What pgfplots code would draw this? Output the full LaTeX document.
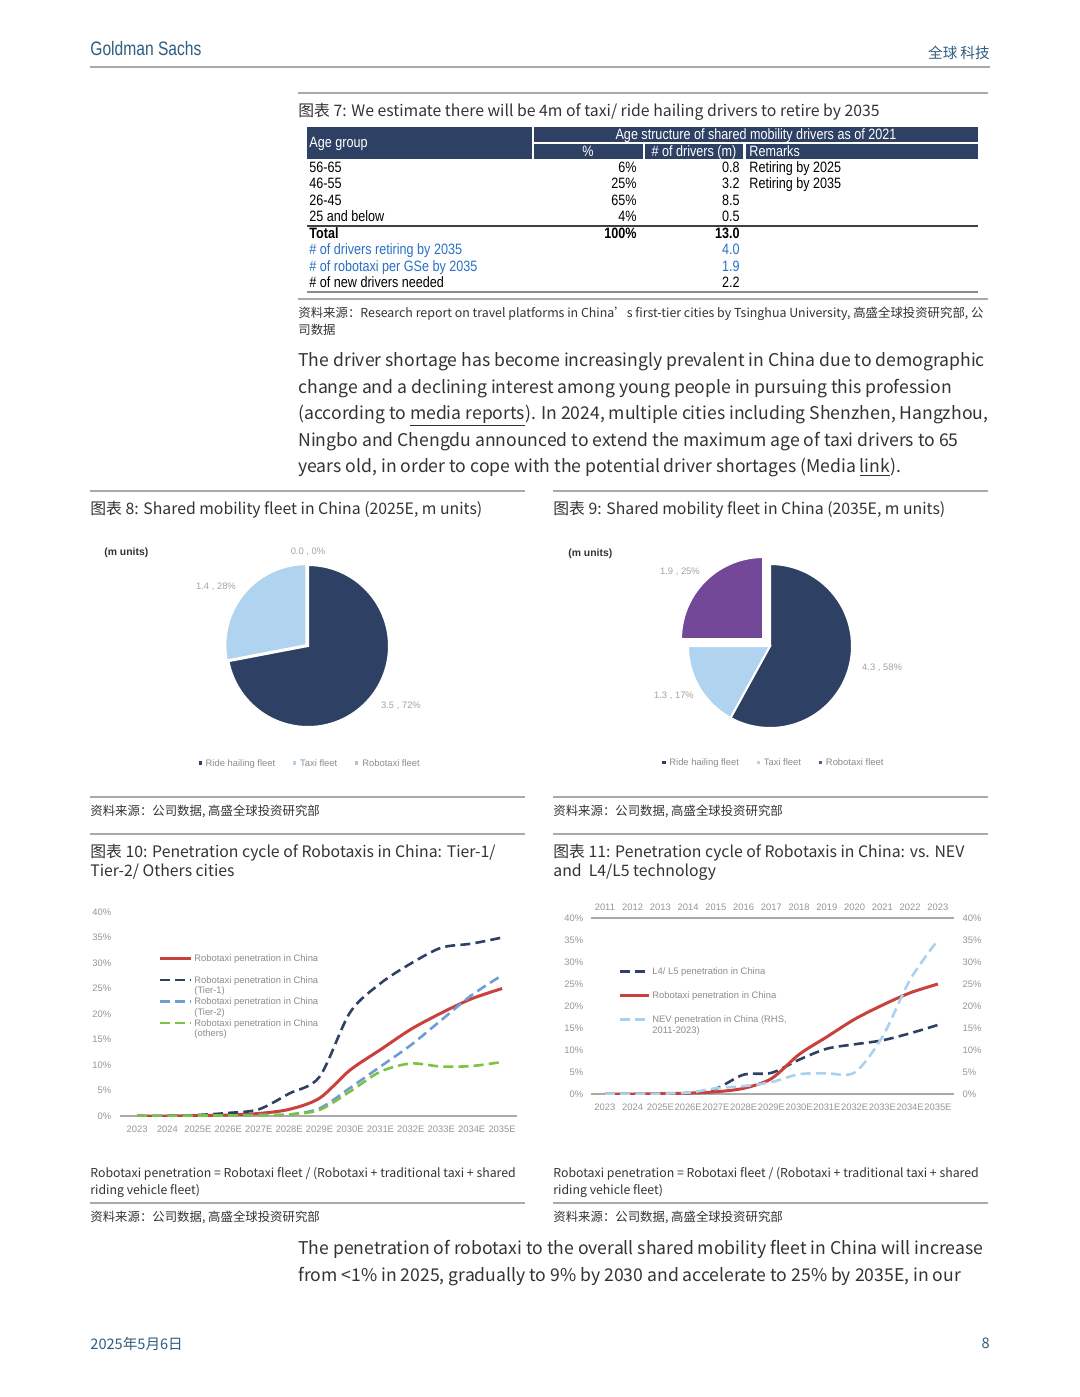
\documentclass[border=0pt]{standalone}
\usepackage{pgfplots}
\pgfplotsset{compat=1.18}
\usepackage{fontspec}
\setmainfont{Noto Sans CJK SC}
\newfontfamily\arial{Liberation Sans}
\newfontfamily\narrow[FakeStretch=0.84]{Liberation Sans}
\newfontfamily\gscond[FakeStretch=0.8]{Liberation Sans}

\definecolor{navy}{RGB}{46,65,100}
\definecolor{lblue}{RGB}{176,212,239}
\definecolor{purp}{RGB}{115,72,152}
\definecolor{gsblue}{RGB}{46,94,128}
\definecolor{rline}{RGB}{200,65,60}
\definecolor{t2blue}{RGB}{112,156,212}
\definecolor{grn}{RGB}{125,194,66}
\definecolor{nev}{RGB}{170,210,240}
\definecolor{tabblue}{RGB}{40,112,200}
\definecolor{txt}{RGB}{51,51,51}
\definecolor{tick}{RGB}{150,150,150}
\definecolor{leg}{RGB}{140,140,140}
\definecolor{rule}{RGB}{170,170,170}

\newcommand\bodyf{\fontsize{8.8pt}{10.5pt}\selectfont}
\newcommand\titf{\fontsize{7.9pt}{9pt}\selectfont}
\newcommand\srcf{\fontsize{6.2pt}{7pt}\selectfont}
\newcommand\notef{\fontsize{6.15pt}{7pt}\selectfont}
\newcommand\tabf{\narrow\fontsize{7.5pt}{8pt}\selectfont}
\newcommand\cf{\arial\fontsize{4.7pt}{5.25pt}\selectfont}
\newcommand\oneline[1]{\raisebox{0pt}[3.4pt][1.2pt]{#1}}
\newcommand\twoline[2]{\raisebox{0pt}[3.4pt][1.2pt]{\begin{tabular}[t]{@{}l@{}}#1\\#2\end{tabular}}}

\pgfplotsset{
  linechart/.style={scale only axis, ymin=0, ymax=40,
    major tick length=0pt, xtick={0,...,12}, ytick={0,5,...,40},
    yticklabel={\pgfmathprintnumber{\tick}\%},
    /pgf/number format/assume math mode=true,
    tick label style={font=\cf, text=tick},
    y axis line style={draw=none},
    x axis line style={draw=rule, line width=0.6pt},
    legend style={draw=none, fill=none, inner sep=0pt, font=\cf, text=leg,
      nodes={inner sep=0pt}, cells={anchor=base west}, /tikz/column sep=1pt}},
  pie/.style={hide axis, clip=false, xmin=-2, xmax=2, ymin=-2, ymax=2,
    legend columns=3,
    legend style={draw=none, fill=none, inner sep=0pt, anchor=center,
      font=\cf, text=leg, cells={anchor=base west},
      /tikz/every even column/.append style={column sep=7pt}}},
  dot/.style={legend image code/.code={\fill[#1] (0.6pt,1.1pt) rectangle (1.7pt,2.2pt);}}
}

\begin{document}
\begin{tikzpicture}
\path[use as bounding box, fill=white] (0pt,0pt) rectangle (540pt,-698.5pt);
\begin{scope}[x=0.5pt,y=-0.5pt]
% page rules
\draw[rule, line width=1pt] (90,67) -- (990,67);
\draw[rule, line width=0.6pt] (298,93) -- (988,93);
\draw[rule, line width=0.6pt] (298,299) -- (988,299);
\foreach \yy in {491,797,834,1203} {
  \draw[rule, line width=0.6pt] (90,\yy) -- (525,\yy);
  \draw[rule, line width=0.6pt] (553,\yy) -- (988,\yy);
}
% header / footer
\node[anchor=base west, inner sep=0pt, font=\gscond\fontsize{9.75pt}{10pt}\selectfont, text=gsblue] at (90,55) {Goldman Sachs};
\node[anchor=base east, inner sep=0pt, font=\fontsize{7.3pt}{8pt}\selectfont, text=gsblue] at (990,58) {全球\hspace{1.5pt}科技};
\node[anchor=base west, inner sep=0pt, font=\fontsize{7.3pt}{8pt}\selectfont, text=gsblue] at (90,1349) {2025年5月6日};
\node[anchor=base east, inner sep=0pt, font=\fontsize{7.3pt}{8pt}\selectfont, text=gsblue] at (990,1348) {8};

% figure 7: table
\node[anchor=base west, inner sep=0pt, font=\titf, text=txt] at (298,116) {图表 7: We estimate there will be 4m of taxi/ ride hailing drivers to retire by 2035};
\fill[navy] (307,127) rectangle (532,159);
\fill[navy] (534,127) rectangle (978,142);
\fill[navy] (534,144) rectangle (643,159);
\fill[navy] (645,144) rectangle (743,159);
\fill[navy] (746,144) rectangle (978,159);
\begin{scope}[every node/.style={inner sep=0pt, font=\tabf}]
\node[anchor=base west, text=white] at (309,147) {Age group};
\node[anchor=base, text=white] at (756,139) {Age structure of shared mobility drivers as of 2021};
\node[anchor=base, text=white] at (588,156) {\%};
\node[anchor=base, text=white] at (694,156) {\# of drivers (m)};
\node[anchor=base west, text=white] at (749,156) {Remarks};
\node[anchor=base west] at (309,172) {56-65};
\node[anchor=base east] at (637,172) {6\%};
\node[anchor=base east] at (740,172) {0.8};
\node[anchor=base west] at (749,172) {Retiring by 2025};
\node[anchor=base west] at (309,188.5) {46-55};
\node[anchor=base east] at (637,188.5) {25\%};
\node[anchor=base east] at (740,188.5) {3.2};
\node[anchor=base west] at (749,188.5) {Retiring by 2035};
\node[anchor=base west] at (309,205) {26-45};
\node[anchor=base east] at (637,205) {65\%};
\node[anchor=base east] at (740,205) {8.5};
\node[anchor=base west] at (309,221.5) {25 and below};
\node[anchor=base east] at (637,221.5) {4\%};
\node[anchor=base east] at (740,221.5) {0.5};
\node[anchor=base west, font=\tabf\bfseries] at (309,238) {Total};
\node[anchor=base east, font=\tabf\bfseries] at (637,238) {100\%};
\node[anchor=base east, font=\tabf\bfseries] at (740,238) {13.0};
\node[anchor=base west, text=tabblue] at (309,254.5) {\# of drivers retiring by 2035};
\node[anchor=base east, text=tabblue] at (740,254.5) {4.0};
\node[anchor=base west, text=tabblue] at (309,271) {\# of robotaxi per GSe by 2035};
\node[anchor=base east, text=tabblue] at (740,271) {1.9};
\node[anchor=base west] at (309,287.5) {\# of new drivers needed};
\node[anchor=base east] at (740,287.5) {2.2};
\end{scope}
\draw[black!75, line width=1.1pt] (307,226) -- (978,226);
\draw[black!45, line width=0.9pt] (307,292) -- (978,292);
\node[anchor=base west, inner sep=0pt, font=\srcf, text=txt] at (298,317) {资料来源：Research report on travel platforms in China’s first-tier cities by Tsinghua University, 高盛全球投资研究部, 公};
\node[anchor=base west, inner sep=0pt, font=\srcf, text=txt] at (298,334) {司数据};

% paragraphs
\begin{scope}[every node/.style={anchor=base west, inner sep=0pt, font=\bodyf, text=txt}]
\node at (298,366) {The driver shortage has become increasingly prevalent in China due to demographic};
\node at (298,393) {change and a declining interest among young people in pursuing this profession};
\node at (298,419) {(according to \underline{media reports}). In 2024, multiple cities including Shenzhen, Hangzhou,};
\node at (298,446) {Ningbo and Chengdu announced to extend the maximum age of taxi drivers to 65};
\node at (298,472) {years old, in order to cope with the potential driver shortages (Media \underline{link}).};
\node at (298,1254) {The penetration of robotaxi to the overall shared mobility fleet in China will increase};
\node at (298,1281) {from <1\% in 2025, gradually to 9\% by 2030 and accelerate to 25\% by 2035E, in our};
\end{scope}

% figure titles, notes, sources
\begin{scope}[every node/.style={anchor=base west, inner sep=0pt, font=\titf, text=txt}]
\node at (90,514) {图表 8: Shared mobility fleet in China (2025E, m units)};
\node at (553,514) {图表 9: Shared mobility fleet in China (2035E, m units)};
\node at (90,857) {图表 10: Penetration cycle of Robotaxis in China: Tier-1/};
\node at (90,876) {Tier-2/ Others cities};
\node at (553,857) {图表 11: Penetration cycle of Robotaxis in China: vs. NEV};
\node at (553,876) {and\ \ L4/L5 technology};
\end{scope}
\begin{scope}[every node/.style={anchor=base west, inner sep=0pt, font=\srcf, text=txt}]
\node at (90,815) {资料来源：公司数据, 高盛全球投资研究部};
\node at (553,815) {资料来源：公司数据, 高盛全球投资研究部};
\node at (90,1221) {资料来源：公司数据, 高盛全球投资研究部};
\node at (553,1221) {资料来源：公司数据, 高盛全球投资研究部};
\node[font=\notef] at (90,1177) {Robotaxi penetration = Robotaxi fleet / (Robotaxi + traditional taxi + shared};
\node[font=\notef] at (90,1194) {riding vehicle fleet)};
\node[font=\notef] at (553,1177) {Robotaxi penetration = Robotaxi fleet / (Robotaxi + traditional taxi + shared};
\node[font=\notef] at (553,1194) {riding vehicle fleet)};
\end{scope}
\node[anchor=base west, inner sep=0pt, font=\arial\bfseries\fontsize{5.2pt}{6pt}\selectfont, text=black!80] at (104,555) {(m units)};
\node[anchor=base west, inner sep=0pt, font=\arial\bfseries\fontsize{5.2pt}{6pt}\selectfont, text=black!80] at (568,556) {(m units)};
\end{scope}

% pie shares (%)
\pgfmathsetmacro\aA{90-3.6*72}
\pgfmathsetmacro\aB{\aA-3.6*28}
\pgfmathsetmacro\bA{90-3.6*58}
\pgfmathsetmacro\bB{\bA-3.6*17}
\pgfmathsetmacro\bC{\bB-3.6*25}

% figure 8: pie 2025E
\begin{axis}[pie, at={(154pt,-323pt)}, anchor=center, x=40.5pt, y=40.5pt,
  legend style={at={(0.51,0.135)}}]
\addplot[fill=navy, draw=white, line width=1pt, domain=\aA:90, samples=90, variable=\t, forget plot]
  ({cos(\t)},{sin(\t)}) -- (0,0) -- cycle;
\addplot[fill=lblue, draw=white, line width=1pt, domain=\aB:\aA, samples=60, variable=\t, forget plot]
  ({-0.02+cos(\t)},{0.01+sin(\t)}) -- (-0.02,0.01) -- cycle;
\addlegendimage{dot=navy}\addlegendentry{Ride hailing fleet}
\addlegendimage{dot=lblue}\addlegendentry{Taxi fleet}
\addlegendimage{dot=purp!40}\addlegendentry{Robotaxi fleet}
\node[font=\cf, text=leg!80] at (0,1.16) {0.0 , 0\%};
\node[font=\cf, text=leg!80] at (-1.136,0.728) {1.4 , 28\%};
\node[font=\cf, text=leg!80] at (1.148,-0.741) {3.5 , 72\%};
\end{axis}

% figure 9: pie 2035E
\begin{axis}[pie, at={(385pt,-323pt)}, anchor=center, x=41pt, y=41pt,
  legend style={at={(0.515,0.142)}}]
\addplot[fill=navy, draw=white, line width=1pt, domain=\bA:90, samples=90, variable=\t, forget plot]
  ({cos(\t)},{sin(\t)}) -- (0,0) -- cycle;
\addplot[fill=lblue, draw=white, line width=1pt, domain=\bB:\bA, samples=40, variable=\t, forget plot]
  ({cos(\t)},{sin(\t)}) -- (0,0) -- cycle;
\addplot[fill=purp, draw=white, line width=1pt, domain=\bC:\bB, samples=40, variable=\t, forget plot]
  ({-0.085+cos(\t)},{0.085+sin(\t)}) -- (-0.085,0.085) -- cycle;
\addlegendimage{dot=navy}\addlegendentry{Ride hailing fleet}
\addlegendimage{dot=lblue}\addlegendentry{Taxi fleet}
\addlegendimage{dot=purp}\addlegendentry{Robotaxi fleet}
\node[font=\cf, text=leg!80] at (-1.098,0.902) {1.9 , 25\%};
\node[font=\cf, text=leg!80] at (1.366,-0.268) {4.3 , 58\%};
\node[font=\cf, text=leg!80] at (-1.171,-0.61) {1.3 , 17\%};
\end{axis}

% figure 10
\begin{axis}[linechart, at={(60pt,-558pt)}, anchor=south west,
  width=198.5pt, height=102pt, xmin=-0.56, xmax=12.49,
  axis x line*=bottom, axis y line*=left,
  xticklabels={2023,2024,2025E,2026E,2027E,2028E,2029E,2030E,2031E,2032E,2033E,2034E,2035E},
  yticklabel style={xshift=-0.9pt}, xticklabel style={yshift=-1.2pt},
  legend image code/.code={\draw[#1] (0pt,1.6pt) -- (15.5pt,1.6pt);},
  legend style={at={(0.0957,0.793)}, anchor=north west, /tikz/row sep=5.9pt}]
\addplot[rline, line width=1.5pt, smooth] coordinates
  {(0,0) (1,0) (2,0.1) (3,0.2) (4,0.5) (5,1.3) (6,3.5) (7,9) (8,13) (9,17) (10,20.2) (11,23) (12,25)};
\addlegendentry{\oneline{Robotaxi penetration in China}}
\addplot[navy, line width=1.3pt, dash pattern=on 5pt off 2.6pt, smooth] coordinates
  {(0,0) (1,0) (2,0.2) (3,0.6) (4,1.3) (5,4.4) (6,7.7) (7,20.3) (8,26) (9,29.9) (10,33) (11,33.8) (12,35)};
\addlegendentry{\twoline{Robotaxi penetration in China}{(Tier-1)}}
\addplot[t2blue, line width=1.3pt, dash pattern=on 5pt off 2.6pt, smooth] coordinates
  {(0,0) (1,0) (2,0.1) (3,0.1) (4,0.2) (5,0.3) (6,1.5) (7,5.5) (8,9.7) (9,13.9) (10,18.8) (11,23.7) (12,27.6)};
\addlegendentry{\twoline{Robotaxi penetration in China}{(Tier-2)}}
\addplot[grn, line width=1.3pt, dash pattern=on 5pt off 2.6pt, smooth] coordinates
  {(0,0) (1,0) (2,0.1) (3,0.1) (4,0.2) (5,0.3) (6,1.2) (7,4.8) (8,8.7) (9,10.3) (10,9.7) (11,9.8) (12,10.6)};
\addlegendentry{\twoline{Robotaxi penetration in China}{(others)}}
\end{axis}

% figure 11, left axis
\begin{axis}[linechart, at={(295.5pt,-547pt)}, anchor=south west,
  width=181.5pt, height=88pt, xmin=-0.5, xmax=12.58,
  axis x line*=bottom, axis y line*=left,
  xticklabels={2023,2024,2025E,2026E,2027E,2028E,2029E,2030E,2031E,2032E,2033E,2034E,2035E},
  yticklabel style={xshift=-0.4pt}, xticklabel style={yshift=-1.4pt},
  legend image code/.code={\draw[#1] (0pt,1.6pt) -- (14.5pt,1.6pt);},
  legend style={at={(0.0744,0.72)}, anchor=north west, /tikz/row sep=7.2pt}]
\addplot[navy, line width=1.3pt, dash pattern=on 5pt off 2.6pt, smooth] coordinates
  {(0,0) (1,0) (2,0) (3,0.2) (4,1.2) (5,4.4) (6,4.8) (7,7.8) (8,10.3) (9,11.3) (10,12.2) (11,13.8) (12,15.7)};
\addlegendentry{\oneline{L4/ L5 penetration in China}}
\addplot[rline, line width=1.5pt, smooth] coordinates
  {(0,0) (1,0) (2,0.1) (3,0.2) (4,0.5) (5,1.3) (6,3.5) (7,9) (8,13) (9,17) (10,20.2) (11,23) (12,25)};
\addlegendentry{\oneline{Robotaxi penetration in China}}
\addlegendimage{nev, line width=1.3pt, dash pattern=on 5pt off 2.6pt}
\addlegendentry{\twoline{NEV penetration in China (RHS,}{2011-2023)}}
\end{axis}

% figure 11, right axis (NEV, 2011-2023)
\begin{axis}[linechart, at={(295.5pt,-547pt)}, anchor=south west,
  width=181.5pt, height=88pt, xmin=-0.5, xmax=12.58,
  axis x line*=top, axis y line*=right,
  xticklabels={2011,2012,2013,2014,2015,2016,2017,2018,2019,2020,2021,2022,2023},
  yticklabel style={xshift=0.8pt}, xticklabel style={yshift=0pt}]
\addplot[nev, line width=1.3pt, dash pattern=on 5pt off 2.6pt, smooth] coordinates
  {(0,0.05) (1,0.1) (2,0.1) (3,0.3) (4,1.3) (5,1.8) (6,2.7) (7,4.5) (8,4.7) (9,4.9) (10,13) (11,26) (12,35)};
\end{axis}
\end{tikzpicture}
\end{document}
